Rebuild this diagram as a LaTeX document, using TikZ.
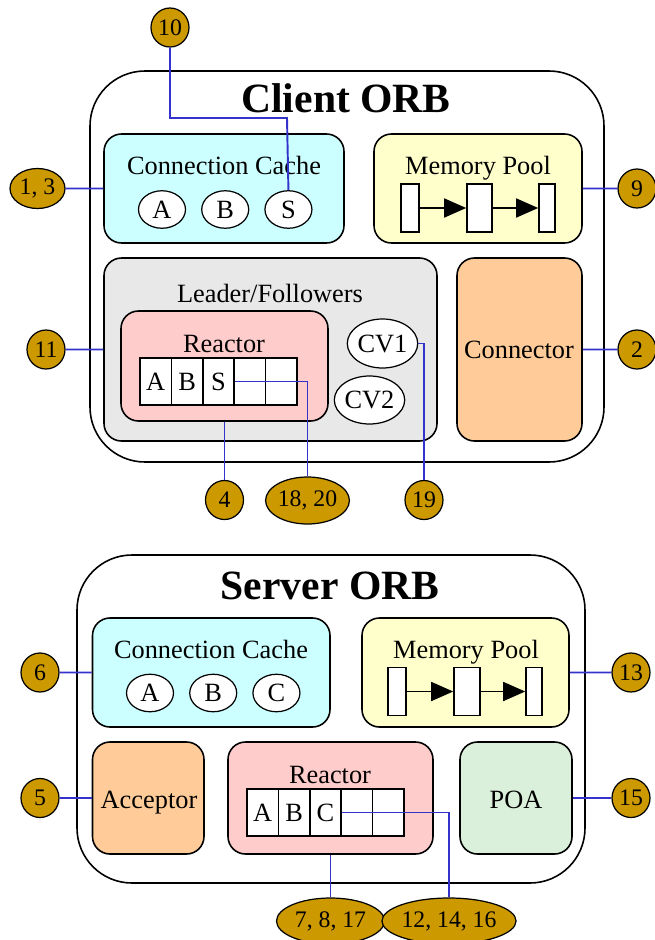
\documentclass[tikz,border=0pt]{standalone}
\usepackage{fontspec}
\setmainfont{Liberation Serif}
\usetikzlibrary{positioning,fit,shapes.geometric,arrows.meta}

\definecolor{cachecol}{HTML}{CCFFFF}
\definecolor{poolcol}{HTML}{FFFFCC}
\definecolor{lfcol}{HTML}{E8E8E8}
\definecolor{reactcol}{HTML}{FFCCCC}
\definecolor{conncol}{HTML}{FFCC99}
\definecolor{poacol}{HTML}{DAF0DA}
\definecolor{tagcol}{HTML}{CC9900}
\definecolor{wirecol}{HTML}{3333CC}

\begin{document}
\begin{tikzpicture}[x=0.02cm,y=-0.02cm,
    orb/.style={draw,line width=0.9pt,rounded corners=1.1cm,inner sep=0pt},
    part/.style={draw,line width=0.9pt,rounded corners=0.35cm,inner sep=0pt},
    lbl/.style={anchor=base,inner sep=0pt,font=\fontsize{15}{18}\selectfont},
    title/.style={anchor=base,inner sep=0pt,font=\fontsize{23.7}{28}\selectfont\bfseries},
    slot/.style={ellipse,draw,fill=white,line width=0.7pt,minimum width=0.94cm,minimum height=0.75cm,inner sep=0pt,font=\fontsize{15}{18}\selectfont},
    cell/.style={draw,fill=white,line width=0.9pt,minimum width=0.628cm,minimum height=0.94cm,inner sep=0pt,font=\fontsize{15}{18}\selectfont},
    blk/.style={draw,fill=white,line width=0.9pt,minimum height=0.96cm,inner sep=0pt},
    ptr/.style={-{Triangle[length=0.44cm,width=0.38cm]},line width=0.9pt},
    tag/.style={ellipse,draw,fill=tagcol,line width=0.7pt,minimum width=0.76cm,minimum height=0.78cm,inner sep=0pt,font=\fontsize{13.5}{16}\selectfont},
    wire/.style={draw=wirecol,line width=1.1pt}]
    \useasboundingbox (0,0) rectangle (654,940);

    % client side
    \node[orb,fit={(90,71) (604,462)}] (client) {};
    \node[title] (clienttitle) at (346,112) {Client ORB};

    \node[part,fill=cachecol,fit={(104,134) (344,243)}] (ccache) {};
    \node[lbl] (ccachetext) at (224,174) {Connection Cache};
    \node[slot] (cA) at (162,209.5) {A};
    \node[slot,right=0.3cm of cA] (cB) {B};
    \node[slot,right=0.3cm of cB] (cS) {S};

    \node[part,fill=poolcol,fit={(374,134) (582,243)}] (cpool) {};
    \node[lbl] (cpooltext) at (478,174) {Memory Pool};
    \node[blk,minimum width=0.36cm] (cm1) at (410,208) {};
    \node[blk,minimum width=0.5cm] (cm2) at (479.5,208) {};
    \node[blk,minimum width=0.32cm] (cm3) at (547,208) {};
    \draw[ptr] (cm1) -- (cm2);
    \draw[ptr] (cm2) -- (cm3);

    \node[part,fill=lfcol,fit={(104,258) (437,441)}] (lf) {};
    \node[lbl] (lftext) at (270,302) {Leader/Followers};
    \node[part,fill=reactcol,fit={(121,311) (328,421)}] (creact) {};
    \node[lbl] (creacttext) at (224,352) {Reactor};
    \foreach \i/\t in {1/A,2/B,3/S,4/,5/}
        \node[cell] (cc\i) at (140+31.4*\i-15.7,381.5) {\t};
    \node[slot,minimum width=1.18cm,minimum height=0.98cm] (cv1) at (382.5,343.5) {CV1};
    \node[slot,minimum width=1.14cm,minimum height=0.96cm] (cv2) at (369.5,400) {CV2};

    \node[part,fill=conncol,fit={(457,258) (582,441)}] (conn) {};
    \node[lbl] (conntext) at (519,358) {Connector};

    % server side
    \node[orb,fit={(77,555) (585,883)}] (server) {};
    \node[title] (servertitle) at (330,599) {Server ORB};

    \node[part,fill=cachecol,fit={(92.5,618) (330,727)}] (scache) {};
    \node[lbl] (scachetext) at (211,658) {Connection Cache};
    \node[slot] (sA) at (150,693) {A};
    \node[slot,right=0.3cm of sA] (sB) {B};
    \node[slot,right=0.3cm of sB] (sC) {C};

    \node[part,fill=poolcol,fit={(362,618) (569,727)}] (spool) {};
    \node[lbl] (spooltext) at (466,658) {Memory Pool};
    \node[blk,minimum width=0.36cm] (sm1) at (397,691.5) {};
    \node[blk,minimum width=0.52cm] (sm2) at (467,691.5) {};
    \node[blk,minimum width=0.32cm] (sm3) at (534,691.5) {};
    \draw[ptr] (sm1) -- (sm2);
    \draw[ptr] (sm2) -- (sm3);

    \node[part,fill=conncol,fit={(92.5,742) (204,854)}] (acc) {};
    \node[lbl] (acctext) at (149,808) {Acceptor};
    \node[part,fill=reactcol,fit={(228,742) (433,854)}] (sreact) {};
    \node[lbl] (sreacttext) at (330,783) {Reactor};
    \foreach \i/\t in {1/A,2/B,3/C,4/,5/}
        \node[cell] (sc\i) at (247+31.4*\i-15.7,812.5) {\t};
    \node[part,fill=poacol,fit={(460,742) (572,854)}] (poa) {};
    \node[lbl] (poatext) at (516,808) {POA};

    % numbered tags
    \node[tag] (lab10) at (170,27.5) {10};
    \node[tag,minimum width=1.1cm,minimum height=0.8cm] (lab1n3) at (37.5,188.5) {1, 3};
    \node[tag] (lab9) at (637,188.5) {9};
    \node[tag] (lab11) at (46,349.5) {11};
    \node[tag] (lab2) at (637,349.5) {2};
    \node[tag] (lab4) at (224.5,500) {4};
    \node[tag,minimum width=1.58cm,minimum height=0.94cm] (lab18n20) at (307.5,500.5) {18, 20};
    \node[tag] (lab19) at (424,500) {19};
    \node[tag] (lab6) at (40,672.5) {6};
    \node[tag] (lab5) at (40,798) {5};
    \node[tag] (lab13) at (631,672.5) {13};
    \node[tag] (lab15) at (631,798) {15};
    \node[tag,minimum width=2.16cm,minimum height=0.92cm] (lab7n8n17) at (330.5,921) {7, 8, 17};
    \node[tag,minimum width=2.16cm,minimum height=0.92cm] (lab12n14n16) at (449,921) {12, 14, 16};

    % wires
    \coordinate (bend10) at (287,118);
    \draw[wire] (lab10) |- (bend10) -- (cS.north);
    \draw[wire] (lab1n3) -- (ccache);
    \draw[wire] (cpool) -- (lab9);
    \draw[wire] (lab11) -- (lf);
    \draw[wire] (conn) -- (lab2);
    \draw[wire] (creact.south) -- (lab4.north);
    \draw[wire] (cc3.east) -| (lab18n20.north);
    \draw[wire] (cv1.east) -| (lab19.north);
    \draw[wire] (lab6) -- (scache);
    \draw[wire] (lab5) -- (acc);
    \draw[wire] (spool) -- (lab13);
    \draw[wire] (poa) -- (lab15);
    \draw[wire] (sreact.south) -- (lab7n8n17.north);
    \draw[wire] (sc3.east) -| (lab12n14n16.north);
\end{tikzpicture}
\end{document}
